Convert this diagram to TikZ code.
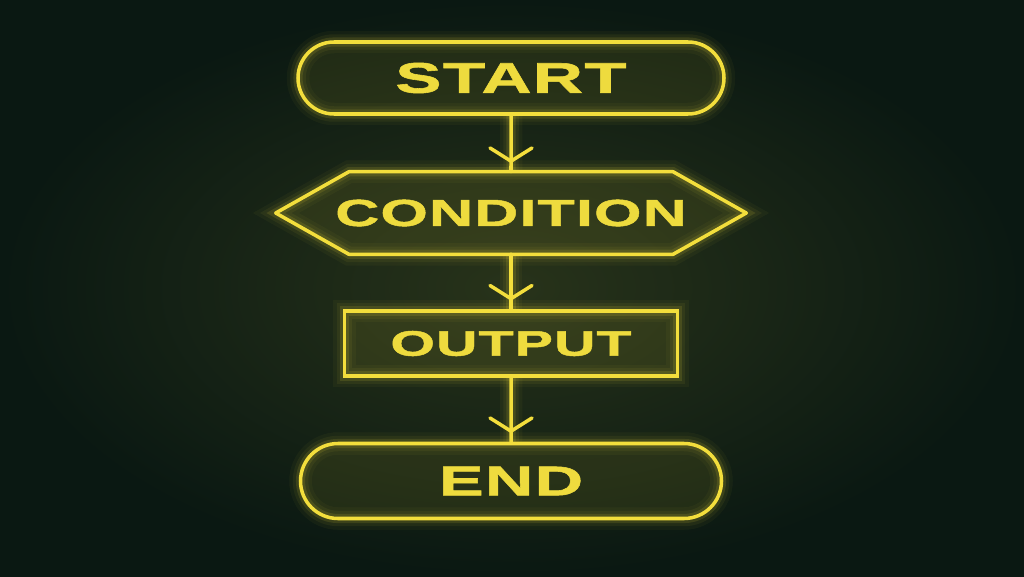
\documentclass[tikz,border=0pt]{standalone}
\usepackage{fontspec}
\usetikzlibrary{positioning,shapes.misc,arrows.meta,decorations.markings}
\newfontfamily\neonfont[FakeStretch=1.62,LetterSpace=3,FakeBold=1.3]{Liberation Sans}
\definecolor{neon}{HTML}{F3DE3C}
\definecolor{neontext}{HTML}{EEDB3E}
\definecolor{bgin}{HTML}{28331A}
\definecolor{bgout}{HTML}{0A1812}
\tikzset{
  glow/.style={preaction={draw=neon, line width=16pt, opacity=0.04},
               preaction={draw=neon, line width=11pt, opacity=0.06},
               preaction={draw=neon, line width=6.5pt, opacity=0.12}},
  box/.style={draw=neon, line width=2.5pt, glow, fill=neon, fill opacity=0.09,
              text opacity=1, text=neontext, inner sep=0pt},
  terminal/.style={box, rounded rectangle},
  outbox/.style={box, rectangle},
  neonline/.style={draw=neon, line width=2.5pt, line cap=round, line join=round},
  flow/.style={neonline, glow, postaction={decorate},
    decoration={markings, mark=at position -0.22cm with
      {\arrow{Straight Barb[length=0.33cm, width=1.05cm, line width=2.5pt, round]}}}}
}
\newcommand{\lbl}[2]{{\neonfont\bfseries\fontsize{#1}{#1}\selectfont #2}}
\begin{document}
\begin{tikzpicture}
  \fill[inner color=bgin, outer color=bgout] (0,0) rectangle (25.6,-14.4);
  \useasboundingbox (0,0) rectangle (25.6,-14.4);
  % boxes
  \node[terminal, minimum width=10.65cm, minimum height=1.8cm] (start) at (12.775,-1.95) {\lbl{30.5}{START}};
  \node[inner sep=0pt, minimum width=11.75cm, minimum height=2.05cm, text=neontext] (cond) at (12.775,-5.325) {};
  \draw[neonline, glow, fill=neon, fill opacity=0.09] (cond.west) -- ([xshift=1.83cm]cond.north west) -- ([xshift=-1.83cm]cond.north east)
    -- (cond.east) -- ([xshift=-1.83cm]cond.south east) -- ([xshift=1.83cm]cond.south west) -- cycle;
  \node[text=neontext] at (cond) {\lbl{26.8}{CONDITION}};
  \node[outbox, minimum width=8.325cm, minimum height=1.625cm] (out) at (12.775,-8.5875) {\lbl{25.2}{OUTPUT}};
  \node[terminal, minimum width=10.525cm, minimum height=1.875cm] (end) at (12.775,-12.025) {\lbl{29.5}{END}};
  % arrows
  \draw[flow] (start) -- (cond);
  \draw[flow] (cond) -- (out);
  \draw[flow] (out) -- (end);
\end{tikzpicture}
\end{document}
